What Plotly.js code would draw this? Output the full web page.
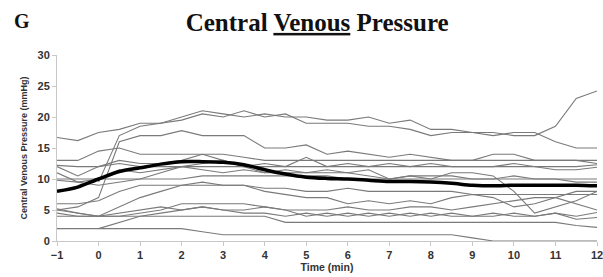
<!DOCTYPE html>
<html>
<head>
<meta charset="utf-8">
<script src="https://cdn.plot.ly/plotly-3.0.1.min.js"></script>
<style>html,body{margin:0;padding:0;background:#fff;}#chart{width:603px;height:277px;}</style>
</head>
<body>
<div id="chart"></div>
<script>
const timeMin = [-1,-0.5,0,0.5,1,1.5,2,2.5,3,3.5,4,4.5,5,5.5,6,6.5,7,7.5,8,8.5,9,9.5,10,10.5,11,11.5,12];

const subject01 = [16.7,16.2,17.5,18,19,19,20,21,20.5,20,20.5,20,20,19.5,19.5,20,19,19.5,18,18,17.5,17.5,17,17,18.5,23,24.2];
const subject02 = [null,null,9.5,17,18.5,19,19.5,20.5,20,21,20,20.5,19,19,19,18.5,18.5,18,17,17.5,17.5,17,17.5,17.5,16,15,15];
const subject03 = [5,5.5,7,16,17,17,17.8,17,17,17,15,15,15.5,14,14.5,14,13.5,14,13.5,13,13,14,14,13,13,13,12.5];
const subject04 = [13,13,14.5,15,14,14,14,14,14,13.5,13,13,13,13,13,13,13,13,13,13,13,13,13,13,13,13,13];
const subject05 = [12.2,12,12,12.5,12,12,12,12,12,12,12,12,12,12,12,12,12,12,12,12,12,12,12,12,12,12,12.3];
const subject06 = [12,10.5,12,13,12.5,12.5,13,14,13,12,12.5,12,13.5,12,12.5,12,12.5,12,12.5,12,12,12,12.5,12,11.5,11.5,11.9];
const subject07 = [11,9.5,10,11.5,11,11.5,12,11.5,11,11.5,11,11,11,11.5,11,10.5,10,10.5,10.5,10.5,10,10,10.5,10,10,9.5,9.5];
const subject08 = [10,10,10,10,10,10,10,10.5,10.5,10.5,10.5,10.5,10.5,10.5,10,10,10,10,10,10,10,10,10,10,10,10,10];
const subject09 = [9.8,9.5,9,9.5,10,11,12,12.5,13,12,11,11.5,11,11,11,11.5,10,10.5,10,11,11,10.5,8,4.5,5.5,6.5,8];
const subject10 = [6,6,6.5,8,9,9,9,9.5,9,9,8.5,8.5,8,8,8.5,8,8,8,8,8,7.5,7.5,7.5,7.5,7.5,7.5,7.5];
const subject11 = [5.2,4.5,4,5.5,7,8,9,9,9,9,8,7.5,7,7,6,6.5,6,6.5,6,7,7.5,7,5.5,6,7,8,8];
const subject12 = [5,4.5,4,4,4.5,5,6,6,6,6,5.5,5,5,5,5.5,5,5,5.5,5.5,5,5.5,6,6.5,7,7,6,5];
const subject13 = [4.5,4,4,4.5,5,5.5,5,5.5,5,4.5,4.5,4,4.5,4,4.5,4,4.5,4,4.5,4,4,4.5,4,4,4.5,3.5,3.8];
const subject14 = [4,4,4,4,4,4,4,4,4,4,4,3,3,3,3,3,3,3,3,3,3,3,3,3,3,2.5,2.2];
const subject15 = [2,2,2,2,2,2,2,1.5,1,1,1,1,1,1,1,1,1,1,1,1,0.5,0,0,0,0,0,0];
const subject16 = [null,null,2,3,4,4.5,5,5.5,5,5,5.5,5,4,4.5,4,4.5,4,4.5,4,4.5,4,4,4.5,4,4.5,4,4.6];

const meanCVP = [8,8.7,10,11.2,11.8,12.4,12.8,12.8,12.7,12.3,11.5,10.8,10.3,10.1,10,9.8,9.6,9.6,9.5,9.3,9,8.9,9,9,9,9,8.9];

const subjects = [subject01,subject02,subject03,subject04,subject05,subject06,subject07,subject08,
  subject09,subject10,subject11,subject12,subject13,subject14,subject15,subject16];

const traces = subjects.map(s => ({
  x: timeMin, y: s, type: 'scatter', mode: 'lines',
  line: {color: '#7a7a7a', width: 1.1}, connectgaps: false, hoverinfo: 'skip'
}));
traces.push({
  x: timeMin, y: meanCVP, type: 'scatter', mode: 'lines',
  line: {color: '#000000', width: 3.5, shape: 'spline', smoothing: 0.8}
});

const tickFont = {family: 'Liberation Sans, Arial, sans-serif', size: 11, color: '#333', weight: 'bold'};

const layout = {
  width: 603, height: 277,
  margin: {l: 57, r: 6, t: 55, b: 36},
  paper_bgcolor: '#fff', plot_bgcolor: '#fff',
  showlegend: false,
  title: {
    text: 'Central <u>Venous</u> Pressure',
    font: {family: 'Liberation Serif, Times New Roman, serif', size: 25, color: '#111', weight: 'bold'},
    x: 0.526, xanchor: 'center', y: 0.92, yanchor: 'middle'
  },
  xaxis: {
    range: [-1, 12], tickvals: [-1,0,1,2,3,4,5,6,7,8,9,10,11,12],
    showgrid: false, zeroline: false, showline: true, linecolor: '#c8c8c8', linewidth: 1,
    ticks: 'outside', ticklen: 4, tickcolor: '#c8c8c8',
    tickfont: tickFont, ticklabeloverflow: 'allow', automargin: false,
    title: {text: 'Time (min)', font: {family: 'Liberation Sans, Arial, sans-serif', size: 10.5, color: '#333', weight: 'bold'}, standoff: 2}
  },
  yaxis: {
    range: [0, 30], tickvals: [0,5,10,15,20,25,30],
    showgrid: false, zeroline: false, showline: true, linecolor: '#c8c8c8', linewidth: 1,
    ticks: 'outside', ticklen: 4, tickcolor: '#c8c8c8',
    tickfont: tickFont, automargin: false,
    title: {text: 'Central Venous Pressure (mmHg)', font: {family: 'Liberation Sans, Arial, sans-serif', size: 9, color: '#333', weight: 'bold'}, standoff: 8}
  },
  annotations: [{
    text: 'G', xref: 'paper', yref: 'paper', x: -0.065, y: 1.185, xanchor: 'center', yanchor: 'middle',
    showarrow: false, font: {family: 'Liberation Serif, Times New Roman, serif', size: 20, color: '#111', weight: 'bold'}
  }]
};

Plotly.newPlot('chart', traces, layout, {displayModeBar: false, staticPlot: true});
</script>
</body>
</html>
